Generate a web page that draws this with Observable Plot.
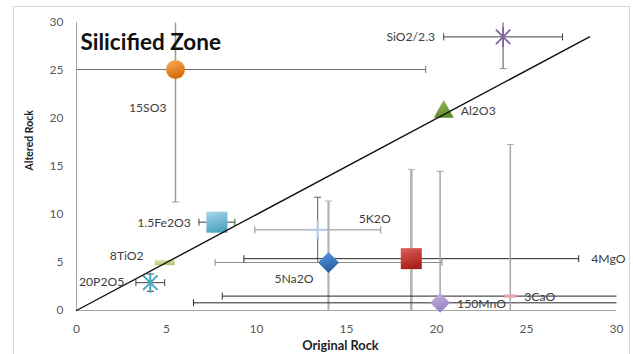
<!DOCTYPE html>
<html>
<head>
<meta charset="utf-8">
<script src="https://cdn.jsdelivr.net/npm/d3@7"></script>
<script src="https://cdn.jsdelivr.net/npm/@observablehq/plot@0.6"></script>
<style>
  html, body { margin: 0; padding: 0; background: #fff; }
  #wrap { position: relative; width: 633px; height: 354px; overflow: hidden; }
  #border { position: absolute; left: 13px; top: 6px; width: 617px; height: 360px; border: 1px solid #d9d9d9; box-sizing: border-box; }
  #chart { position: absolute; left: 0; top: 0; }
</style>
</head>
<body>
<div id="wrap"><div id="border"></div><div id="chart"></div></div>
<script>
// ---- data ----
const names = ["SiO2/2.3", "Al2O3", "15SO3", "1.5Fe2O3", "8TiO2", "20P2O5", "5K2O", "5Na2O", "4MgO", "150MnO", "3CaO"];
const originalRock = [23.7, 20.4, 5.5, 7.8, 4.9, 4.1, 13.4, 14.0, 18.6, 20.2, 24.1];
const alteredRock = [28.5, 20.9, 25.1, 9.2, 5.0, 2.9, 8.4, 5.0, 5.4, 0.8, 1.5];
const originalErr = [3.3, 0, 13.9, 1.0, 0, 0.8, 3.5, 6.3, 9.3, 13.7, 16.0];
const alteredErr = [3.3, 0, 13.8, 0, 0, 0.9, 3.4, 6.4, 9.3, 13.7, 15.8];
const referenceLine = [0, 28.5];
const xTicks = [0, 5, 10, 15, 20, 25, 30];
const yTicks = [0, 5, 10, 15, 20, 25, 30];
const title = "Silicified Zone";
const xTitle = "Original Rock";
const yTitle = "Altered Rock";
const domain = [0, 30];

// ---- styles (kept separate from data) ----
const sym = {
  square: {draw(c, s) { const r = Math.sqrt(s / Math.PI); c.rect(-r, -r, 2 * r, 2 * r); }},
  diamond: {draw(c, s) { const r = Math.sqrt(s / Math.PI); c.moveTo(0, -r); c.lineTo(r, 0); c.lineTo(0, r); c.lineTo(-r, 0); c.closePath(); }},
  triangle: {draw(c, s) { const r = Math.sqrt(s / Math.PI); c.moveTo(0, -r); c.lineTo(r, 0.8 * r); c.lineTo(-r, 0.8 * r); c.closePath(); }},
  star: {draw(c, s) { const r = Math.sqrt(s / Math.PI), k = 0.72 * r; c.moveTo(-k, -k); c.lineTo(k, k); c.moveTo(k, -k); c.lineTo(-k, k); c.moveTo(0, -r); c.lineTo(0, r); }},
  plus: {draw(c, s) { const r = Math.sqrt(s / Math.PI); c.moveTo(-r, 0); c.lineTo(r, 0); c.moveTo(0, -r); c.lineTo(0, r); }},
  dash: {draw(c, s) { const r = Math.sqrt(s / Math.PI); c.rect(-r, -0.27 * r, 2 * r, 0.54 * r); }},
  vcap: {draw(c, s) { const r = Math.sqrt(s / Math.PI); c.moveTo(0, -r); c.lineTo(0, r); }},
  hcap: {draw(c, s) { const r = Math.sqrt(s / Math.PI); c.moveTo(-r, 0); c.lineTo(r, 0); }}
};
const style = {
  "SiO2/2.3": {symbol: sym.star, r: 10, stroke: "#8064a2", sw: 1.8, xe: "#404040", ye: "#8c8c8c", yw: 1.5, label: {anchor: "end", dx: -68, dy: 0}},
  "Al2O3": {symbol: sym.triangle, r: 10, fill: "url(#g-green)", label: {anchor: "start", dx: 17, dy: 1}},
  "15SO3": {symbol: "circle", r: 9.5, fill: "url(#g-orange)", xe: "#6f6f6f", ye: "#9a9a9a", yw: 1.5, label: {anchor: "end", dx: -9, dy: 39}},
  "1.5Fe2O3": {symbol: sym.square, r: 10.5, fill: "url(#g-sky)", xe: "#404040", ye: "#404040", label: {anchor: "end", dx: -26, dy: 1}},
  "8TiO2": {symbol: sym.dash, r: 10, fill: "url(#g-lime)", label: {anchor: "end", dx: -21, dy: -6}},
  "20P2O5": {symbol: sym.star, r: 10, stroke: "#4bacc6", sw: 2, xe: "#404040", ye: "#404040", label: {anchor: "end", dx: -26, dy: -1}},
  "5K2O": {symbol: sym.plus, r: 9, stroke: "#b9cde5", sw: 2.2, xe: "#8c8c8c", ye: "#595959", label: {anchor: "start", dx: 41, dy: -11}},
  "5Na2O": {symbol: sym.diamond, r: 10.5, fill: "url(#g-blue)", xe: "#8c8c8c", ye: "#b3b3b3", yw: 2.2, label: {anchor: "end", dx: -15, dy: 17}},
  "4MgO": {symbol: sym.square, r: 10.5, fill: "url(#g-red)", xe: "#262626", ye: "#b3b3b3", yw: 2.6, label: {anchor: "start", dx: 180, dy: 0}},
  "150MnO": {symbol: sym.diamond, r: 10, fill: "url(#g-lav)", xe: "#262626", ye: "#a6a6a6", yw: 1.5, label: {anchor: "start", dx: 17, dy: 1}},
  "3CaO": {symbol: sym.dash, r: 6, fill: "#e6a3a3", xe: "#262626", ye: "#a6a6a6", yw: 1.5, label: {anchor: "start", dx: 14, dy: 1}}
};
const gradients = [
  ["g-green", "#9bc25e", "#5f8a2a"],
  ["g-orange", "#f7b15a", "#d86a0c"],
  ["g-sky", "#a9d8ea", "#4fa3c2"],
  ["g-lime", "#e2ecb5", "#b3c777"],
  ["g-blue", "#5d9be0", "#245fa6"],
  ["g-red", "#e0605a", "#a8201c"],
  ["g-lav", "#c8b6e2", "#9a82bf"]
];

// ---- build rows ----
const rows = names.map((n, i) => ({name: n, x: originalRock[i], y: alteredRock[i], ex: originalErr[i], ey: alteredErr[i]}));
const clamp = v => Math.max(domain[0], Math.min(domain[1], v));

const marks = [];
// gradient defs
marks.push(() => {
  const defs = d3.create("svg:defs");
  for (const [id, a, b] of gradients) {
    const g = defs.append("linearGradient").attr("id", id).attr("x1", 0).attr("y1", 0).attr("x2", 0.3).attr("y2", 1);
    g.append("stop").attr("offset", "0%").attr("stop-color", a);
    g.append("stop").attr("offset", "100%").attr("stop-color", b);
  }
  return defs.node();
});
// axes lines
marks.push(Plot.ruleY([0], {stroke: "#a6a6a6", strokeWidth: 1}));
marks.push(Plot.ruleX([0], {stroke: "#a6a6a6", strokeWidth: 1}));

// error bars
for (const d of rows) {
  const s = style[d.name];
  if (d.ex > 0) {
    const lo = d.x - d.ex, hi = d.x + d.ex;
    marks.push(Plot.link([d], {x1: () => clamp(lo), x2: () => clamp(hi), y1: "y", y2: "y", stroke: s.xe, strokeWidth: s.xw || 1}));
    const caps = [lo, hi].filter(v => v >= domain[0] && v <= domain[1]).map(v => ({x: v, y: d.y}));
    marks.push(Plot.dot(caps, {x: "x", y: "y", symbol: sym.vcap, r: 3.5, stroke: s.xe, strokeWidth: 1}));
  }
  if (d.ey > 0) {
    const lo = d.y - d.ey, hi = d.y + d.ey;
    marks.push(Plot.link([d], {x1: "x", x2: "x", y1: () => clamp(lo), y2: () => clamp(hi), stroke: s.ye, strokeWidth: s.yw || 1}));
    const caps = [lo, hi].filter(v => v >= domain[0] && v <= domain[1]).map(v => ({x: d.x, y: v}));
    marks.push(Plot.dot(caps, {x: "x", y: "y", symbol: sym.hcap, r: 3.5, stroke: s.ye, strokeWidth: 1}));
  }
}
// markers
for (const d of rows) {
  const s = style[d.name];
  if (s.stroke) {
    marks.push(Plot.dot([d], {x: "x", y: "y", symbol: s.symbol, r: s.r, stroke: s.stroke, strokeWidth: s.sw, fill: "none"}));
  } else {
    marks.push(Plot.dot([d], {x: "x", y: "y", symbol: s.symbol, r: s.r, fill: s.fill, stroke: "none"}));
  }
}
// reference 1:1 line
marks.push(Plot.line([referenceLine[0], referenceLine[1]], {x: d => d, y: d => d, stroke: "#111", strokeWidth: 1.4}));
// data labels
for (const d of rows) {
  const L = style[d.name].label;
  marks.push(Plot.text([d], {x: "x", y: "y", text: "name", textAnchor: L.anchor, dx: L.dx, dy: L.dy, fill: "#404040", fontSize: 12.2}));
}
// titles
marks.push(Plot.text([title], {frameAnchor: "top-left", text: d => d, dx: 4, dy: 20, lineAnchor: "middle", fontSize: 22.5, fontWeight: "bold", fill: "#111"}));
marks.push(Plot.text([xTitle], {frameAnchor: "bottom", text: d => d, dx: -6, dy: 35, lineAnchor: "middle", fontSize: 12.8, fontWeight: "bold", fill: "#222"}));
marks.push(Plot.text([yTitle], {frameAnchor: "left", text: d => d, rotate: -90, dx: -47, dy: 4, lineAnchor: "middle", fontSize: 10.5, fontWeight: "bold", fill: "#222"}));
// axes
marks.push(Plot.axisX(xTicks, {tickSize: 0, tickPadding: 14, label: null, fill: "#595959", fontSize: 12}));
marks.push(Plot.axisY(yTicks, {tickSize: 0, tickPadding: 13, label: null, fill: "#595959", fontSize: 12}));

const chart = Plot.plot({
  width: 633,
  height: 354,
  marginLeft: 76,
  marginRight: 17,
  marginTop: 22,
  marginBottom: 44,
  x: {domain, clamp: false},
  y: {domain},
  style: {fontFamily: "Lato, 'Open Sans', sans-serif", fontSize: "11px", background: "transparent", overflow: "visible"},
  marks
});
document.getElementById("chart").appendChild(chart);
</script>
</body>
</html>
